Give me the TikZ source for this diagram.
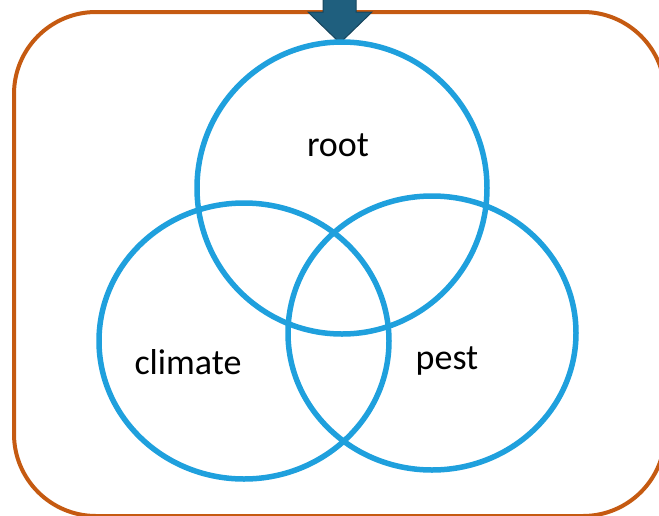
\documentclass[tikz,border=0pt]{standalone}
\usepackage{fontspec}
\setmainfont{Carlito}
\definecolor{frameorange}{HTML}{C55A11}
\definecolor{vennblue}{HTML}{1FA0DD}
\definecolor{arrowfill}{HTML}{1F5F7E}
\definecolor{arrowedge}{HTML}{17455C}
\begin{document}
\begin{tikzpicture}[x=1pt,y=-1pt,
  venn/.style={draw=vennblue,line width=5.5pt},
  lbl/.style={font=\fontsize{36}{40}\selectfont,text=black,inner sep=0pt}]
\useasboundingbox (0,0) rectangle (659,515);
\begin{scope}
\clip (0,0) rectangle (659,515);
\draw[frameorange,line width=4pt,rounded corners=82pt] (14,12) rectangle (665,516);
\end{scope}
\fill[arrowfill,draw=arrowedge,line width=1pt,line join=miter]
  (323,-2) -- (356,-2) -- (356,12) -- (372,12) -- (340,43) -- (308,12) -- (323,12) -- cycle;
\draw[venn] (342,188) ellipse [x radius=145pt, y radius=146pt];
\draw[venn] (244,341) ellipse [x radius=145pt, y radius=138pt];
\draw[venn] (432,333) ellipse [x radius=144pt, y radius=137pt];
\node[lbl] (root) at (338,145) {root};
\node[lbl] (climate) at (188,362) {climate};
\node[lbl] (pest) at (447,361) {pest};
\end{tikzpicture}
\end{document}
